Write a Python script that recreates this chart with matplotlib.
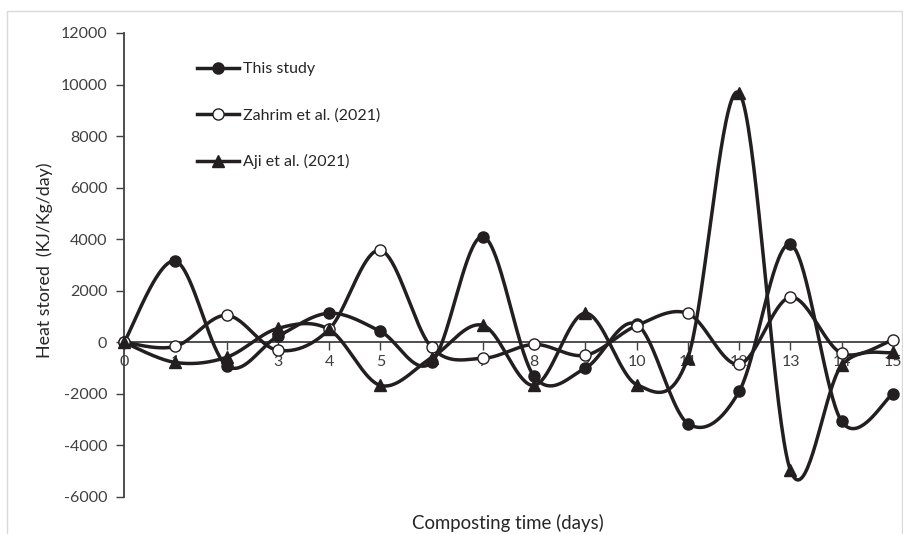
import numpy as np
import matplotlib
matplotlib.use("Agg")
import matplotlib.pyplot as plt
from matplotlib.patches import Rectangle

days = list(range(16))
this_study = [0, 3150, -900, 230, 1130, 430, -780, 4100, -1320, -1000, 700,
              -3150, -1900, 3800, -3070, -2000]
zahrim = [0, -160, 1050, -310, 500, 3570, -200, -620, -80, -500, 650,
          1120, -850, 1750, -430, 100]
aji = [0, -780, -580, 540, 500, -1670, -600, 660, -1670, 1130, -1640,
       -590, 9670, -4970, -890, -390]
x_ticks = list(range(16))
y_ticks = list(range(-6000, 12001, 2000))

plt.rcParams['font.family'] = ['Lato', 'DejaVu Sans']


def smooth(x, y, n=40):
    x = np.asarray(x, float)
    y = np.asarray(y, float)
    P = np.column_stack([x, y])
    Pe = np.vstack([P[0], P, P[-1]])
    out = []
    t = np.linspace(0, 1, n)
    for i in range(len(P) - 1):
        p0, p1, p2, p3 = Pe[i], Pe[i + 1], Pe[i + 2], Pe[i + 3]
        c1 = p1 + (p2 - p0) / 6.0
        c2 = p2 - (p3 - p1) / 6.0
        seg = ((1 - t) ** 3)[:, None] * p1 + (3 * (1 - t) ** 2 * t)[:, None] * c1 \
            + (3 * (1 - t) * t ** 2)[:, None] * c2 + (t ** 3)[:, None] * p2
        out.append(seg if i == 0 else seg[1:])
    s = np.vstack(out)
    return s[:, 0], s[:, 1]


W, H = 904, 534
fig = plt.figure(figsize=(W / 100, H / 100), dpi=100)
fig.patches.append(Rectangle((7 / W, -0.1), (W - 9) / W, 1.1 - 11 / H,
                             transform=fig.transFigure, fill=False,
                             edgecolor='#d9d9d9', linewidth=1.0))

ax = fig.add_axes([124 / W, (H - 497) / H, (893 - 124) / W, (497 - 33) / H])
ax.set_xlim(0, 15)
ax.set_ylim(-6000, 12000)

col = '#231f20'
lw = 2.5
series = [
    (this_study, 'o', col, 'This study'),
    (zahrim, 'o', 'white', 'Zahrim et al. (2021)'),
    (aji, '^', col, 'Aji et al. (2021)'),
]
handles = []
for vals, mk, fc, lab in series:
    sx, sy = smooth(days, vals)
    ms = 8.5 if mk == '^' else 8
    ax.plot(sx, sy, color=col, lw=lw, clip_on=False, solid_capstyle='round', zorder=3)
    ax.plot(days, vals, linestyle='none', marker=mk, markersize=ms,
            markerfacecolor=fc, markeredgecolor=col, markeredgewidth=1.0,
            clip_on=False, zorder=4)
    h, = ax.plot([], [], color=col, lw=lw, marker=mk, markersize=ms,
                 markerfacecolor=fc, markeredgecolor=col, markeredgewidth=1.0)
    handles.append((h, lab))

for s in ['top', 'right']:
    ax.spines[s].set_visible(False)
ax.spines['bottom'].set_position(('data', 0))
ax.spines['left'].set_position(('data', 0))
ax.spines['bottom'].set_color('#404040')
ax.spines['left'].set_color('#404040')
ax.spines['bottom'].set_linewidth(1.3)
ax.spines['left'].set_linewidth(1.3)

ax.set_xticks(x_ticks)
ax.set_xticklabels([str(v) for v in x_ticks])
ax.set_yticks(y_ticks)
ax.set_yticklabels([str(v) for v in y_ticks])
ax.tick_params(axis='x', direction='out', length=6, width=1.0, color='#404040',
               labelsize=11.5, labelcolor='#404040', pad=3)
ax.tick_params(axis='y', direction='out', length=6, width=1.0, color='#404040',
               labelsize=11.5, labelcolor='#404040', pad=6)

fig.text(45 / W, 1 - 260 / H, 'Heat stored  (KJ/Kg/day)', rotation=90,
         ha='center', va='center', fontsize=12.8, color='#262626')
fig.text(508 / W, 1 - 523 / H, 'Composting time (days)', ha='center', va='center',
         fontsize=13.4, color='#262626')

leg = fig.legend([h for h, _ in handles], [l for _, l in handles],
                 loc='upper left', bbox_to_anchor=(197 / W, 1 - 62 / H),
                 frameon=False, fontsize=11.5, labelspacing=2.0,
                 handlelength=2.6, handletextpad=0.25, borderpad=0,
                 borderaxespad=0)
for t in leg.get_texts():
    t.set_color('#262626')

fig.savefig('out.png', dpi=100)
